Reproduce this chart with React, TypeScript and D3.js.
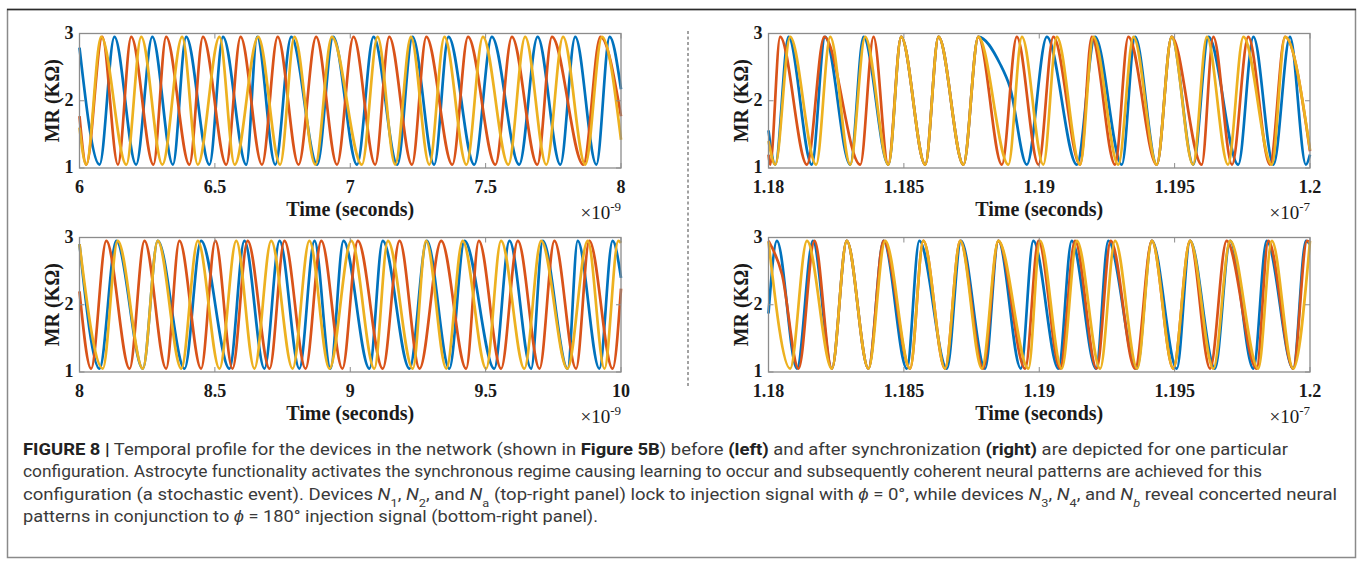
import React from "react";
import * as d3 from "d3";

type Pt = [number, number];

const PEAK = 2.95;
const TROUGH = 1.05;

const blue = "#0072BD";
const orange = "#D95319";
const yellow = "#EDB120";

// top-left panel: before synchronization, time in 1e-9 s
const tlTicks = [6, 6.5, 7, 7.5, 8];
const tlTickLabels = ["6", "6.5", "7", "7.5", "8"];
const tlBluePeaks = [6.129, 6.269, 6.394, 6.53, 6.656, 6.782, 6.937, 7.086, 7.23, 7.363, 7.523, 7.692, 7.831, 7.958];
const tlBlueTroughs = [6.074, 6.209, 6.345, 6.48, 6.616, 6.723, 6.878, 7.025, 7.174, 7.31, 7.458, 7.624, 7.776, 7.909];
const tlBlueEnds = [2.79, 2.17];
const tlOrangePeaks = [6.084, 6.191, 6.32, 6.456, 6.595, 6.732, 6.874, 7.012, 7.144, 7.281, 7.435, 7.597, 7.745, 7.924];
const tlOrangeTroughs = [6.025, 6.142, 6.273, 6.406, 6.542, 6.674, 6.809, 6.951, 7.092, 7.228, 7.377, 7.536, 7.691, 7.861];
const tlOrangeEnds = [1.77, 1.77];
const tlYellowPeaks = [6.08, 6.228, 6.379, 6.517, 6.66, 6.794, 6.932, 7.101, 7.224, 7.348, 7.49, 7.646, 7.786, 7.93];
const tlYellowTroughs = [6.025, 6.173, 6.306, 6.437, 6.573, 6.741, 6.871, 7.043, 7.166, 7.292, 7.429, 7.584, 7.724, 7.868];
const tlYellowEnds = [1.6, 1.42];

// bottom-left panel
const blTicks = [8, 8.5, 9, 9.5, 10];
const blTickLabels = ["8", "8.5", "9", "9.5", "10"];
const blBluePeaks = [8.136, 8.289, 8.449, 8.609, 8.739, 8.868, 8.975, 9.12, 9.283, 9.422, 9.588, 9.711, 9.84, 9.969];
const blBlueTroughs = [8.074, 8.234, 8.388, 8.554, 8.683, 8.812, 8.927, 9.071, 9.219, 9.366, 9.532, 9.668, 9.803, 9.92];
const blBlueEnds = [2.9, 2.4];
const blOrangePeaks = [8.099, 8.24, 8.369, 8.502, 8.621, 8.757, 8.893, 9.028, 9.182, 9.336, 9.475, 9.619, 9.754, 9.883];
const blOrangeTroughs = [8.043, 8.185, 8.32, 8.449, 8.565, 8.702, 8.835, 8.971, 9.12, 9.256, 9.428, 9.557, 9.699, 9.834, 9.969];
const blOrangeEnds = [2.2, 2.24];
const blYellowPeaks = [8.141, 8.289, 8.437, 8.579, 8.708, 8.849, 9.004, 9.139, 9.28, 9.415, 9.557, 9.705, 9.877, 9.99];
const blYellowTroughs = [8.086, 8.234, 8.376, 8.517, 8.646, 8.787, 8.923, 9.089, 9.231, 9.355, 9.502, 9.643, 9.802, 9.939];
const blYellowEnds = [2.9, 2.92];

// right panels: after synchronization, time in 1e-7 s
const rTicks = [1.18, 1.185, 1.19, 1.195, 1.2];
const rTickLabels = ["1.18", "1.185", "1.19", "1.195", "1.2"];

const trBluePeaks = [1.18074, 1.18209, 1.18351, 1.1849, 1.18628, 1.18775, 1.19028, 1.19206, 1.19354, 1.19489, 1.19625, 1.19791, 1.19926];
const trBlueTroughs = [1.18025, 1.1816, 1.18302, 1.18443, 1.18579, 1.1872, 1.18954, 1.19139, 1.19305, 1.19434, 1.19569, 1.19735, 1.19865, 1.19985];
const trBlueShoulder: Pt[] = [[1.18855, 2.55], [1.18892, 2.2]];
const trBlueEnds = [1.56, 1.2];
const trOrangePeaks = [1.18043, 1.18206, 1.18388, 1.1849, 1.18628, 1.18775, 1.18917, 1.19052, 1.19194, 1.19329, 1.19489, 1.19643, 1.19772, 1.19908];
const trOrangeTroughs = [1.18006, 1.18142, 1.18339, 1.18442, 1.18579, 1.1872, 1.18862, 1.18997, 1.19151, 1.1928, 1.19434, 1.196, 1.19712, 1.19852];
const trOrangeEnds = [1.2, 1.25];
const trYellowPeaks = [1.1808, 1.18228, 1.18357, 1.1849, 1.18628, 1.18775, 1.18936, 1.19065, 1.192, 1.19348, 1.19489, 1.19619, 1.19754, 1.19908];
const trYellowTroughs = [1.18025, 1.18176, 1.18302, 1.18443, 1.18579, 1.1872, 1.18886, 1.19015, 1.19151, 1.19292, 1.19434, 1.19568, 1.19697, 1.19859];
const trYellowEnds = [1.4, 1.27];

const brBluePeaks = [1.18031, 1.18164, 1.18289, 1.18425, 1.18557, 1.18711, 1.18849, 1.18978, 1.1912, 1.19255, 1.19416, 1.19557, 1.19705, 1.1984, 1.19985];
const brBlueTroughs = [1.18105, 1.18234, 1.18369, 1.18511, 1.18659, 1.188, 1.18932, 1.19071, 1.1921, 1.1936, 1.19508, 1.19649, 1.19791, 1.19938];
const brBlueEnds = [1.87, 2.9];
const brOrangePeaks = [1.1817, 1.18289, 1.18425, 1.18572, 1.18708, 1.18849, 1.18997, 1.19132, 1.19264, 1.19416, 1.19557, 1.19692, 1.19846, 1.19989];
const brOrangeTroughs = [1.18111, 1.18234, 1.18369, 1.18523, 1.18652, 1.18793, 1.18948, 1.19077, 1.19212, 1.19354, 1.19495, 1.19631, 1.19803, 1.19938];
const brOrangeShoulder: Pt[] = [[1.1805, 2.45]];
const brOrangeEnds = [2.95, 2.93];
const brYellowPeaks = [1.18142, 1.18289, 1.18431, 1.18572, 1.18708, 1.18849, 1.19003, 1.19139, 1.1928, 1.19416, 1.19557, 1.19705, 1.19859];
const brYellowTroughs = [1.1808, 1.18234, 1.18369, 1.18523, 1.18652, 1.18788, 1.1896, 1.19083, 1.19225, 1.19362, 1.19495, 1.19643, 1.19809, 1.19938];
const brYellowEnds = [2.94, 2.95];

const yTicks = [1, 2, 3];

function seriesPoints(domain: number[], ends: number[], peaks: number[], troughs: number[], extra: Pt[] = []): Pt[] {
  const pts: Pt[] = [
    [domain[0], ends[0]],
    ...peaks.map((t) => [t, PEAK] as Pt),
    ...troughs.map((t) => [t, TROUGH] as Pt),
    ...extra,
    [domain[1], ends[1]],
  ];
  return pts.sort((a, b) => a[0] - b[0]);
}

const serif = "'Liberation Serif', 'Times New Roman', serif";
const axisGray = "#8c8c8c";

function Panel({ left, top, width, height, domain, ticks, tickLabels, exponent, series }: any) {
  const x = d3.scaleLinear().domain(domain).range([left, left + width]);
  const y = d3.scaleLinear().domain([1, 3]).range([top + height, top]);
  const line = d3
    .line<Pt>()
    .x((d) => x(d[0]))
    .y((d) => y(d[1]))
    .curve(d3.curveMonotoneX);
  const bottom = top + height;
  return (
    <g>
      {series.map((s: any, i: number) => (
        <path key={i} d={line(s.points) || ""} fill="none" stroke={s.color} strokeWidth={2.7} strokeLinejoin="round" />
      ))}
      <rect x={left} y={top} width={width} height={height} fill="none" stroke={axisGray} strokeWidth={1.3} />
      {ticks.map((t: number, i: number) => (
        <g key={"x" + i}>
          <line x1={x(t)} x2={x(t)} y1={bottom} y2={bottom - 5} stroke={axisGray} />
          <line x1={x(t)} x2={x(t)} y1={top} y2={top + 5} stroke={axisGray} />
          <text x={x(t)} y={bottom + 25} textAnchor="middle" fontFamily={serif} fontWeight="bold" fontSize={18} fill="#1a1a1a">
            {tickLabels[i]}
          </text>
        </g>
      ))}
      {yTicks.map((v) => (
        <g key={"y" + v}>
          <line x1={left} x2={left + 5} y1={y(v)} y2={y(v)} stroke={axisGray} />
          <line x1={left + width} x2={left + width - 5} y1={y(v)} y2={y(v)} stroke={axisGray} />
          <text x={left - 6} y={y(v)} dy="0.28em" textAnchor="end" fontFamily={serif} fontWeight="bold" fontSize={18} fill="#1a1a1a">
            {v}
          </text>
        </g>
      ))}
      <text
        transform={`translate(${left - 28},${top + height / 2}) rotate(-90)`}
        dy="0.35em"
        textAnchor="middle"
        fontFamily={serif}
        fontWeight="bold"
        fontSize={20}
        fill="#1a1a1a"
      >
        MR (KΩ)
      </text>
      <text x={left + width / 2} y={bottom + 47.5} textAnchor="middle" fontFamily={serif} fontWeight="bold" fontSize={20} fill="#1a1a1a">
        Time (seconds)
      </text>
      <text x={left + width} y={bottom + 51} textAnchor="end" fontFamily={serif} fontSize={19} fill="#1a1a1a">
        ×10
        <tspan dy={-8} fontSize={13}>
          {exponent}
        </tspan>
      </text>
    </g>
  );
}

const capFont = "Roboto, 'Liberation Sans', Arial, sans-serif";

function Sub({ children, italic }: any) {
  return (
    <tspan baselineShift="sub" fontSize={11} fontStyle={italic ? "italic" : "normal"}>
      {children}
    </tspan>
  );
}

export default function App() {
  const leftX = 79.5;
  const rightX = 768.5;
  const w = 541.5;
  const topY = 33.5;
  const botY = 237.5;
  const h = 134.5;
  const lDom = [6, 8];
  const bDom = [8, 10];
  const rDom = [1.18, 1.2];

  const tlSeries = [
    { color: blue, points: seriesPoints(lDom, tlBlueEnds, tlBluePeaks, tlBlueTroughs) },
    { color: orange, points: seriesPoints(lDom, tlOrangeEnds, tlOrangePeaks, tlOrangeTroughs) },
    { color: yellow, points: seriesPoints(lDom, tlYellowEnds, tlYellowPeaks, tlYellowTroughs) },
  ];
  const blSeries = [
    { color: blue, points: seriesPoints(bDom, blBlueEnds, blBluePeaks, blBlueTroughs) },
    { color: orange, points: seriesPoints(bDom, blOrangeEnds, blOrangePeaks, blOrangeTroughs) },
    { color: yellow, points: seriesPoints(bDom, blYellowEnds, blYellowPeaks, blYellowTroughs) },
  ];
  const trSeries = [
    { color: blue, points: seriesPoints(rDom, trBlueEnds, trBluePeaks, trBlueTroughs, trBlueShoulder) },
    { color: orange, points: seriesPoints(rDom, trOrangeEnds, trOrangePeaks, trOrangeTroughs) },
    { color: yellow, points: seriesPoints(rDom, trYellowEnds, trYellowPeaks, trYellowTroughs) },
  ];
  const brSeries = [
    { color: blue, points: seriesPoints(rDom, brBlueEnds, brBluePeaks, brBlueTroughs) },
    { color: orange, points: seriesPoints(rDom, brOrangeEnds, brOrangePeaks, brOrangeTroughs, brOrangeShoulder) },
    { color: yellow, points: seriesPoints(rDom, brYellowEnds, brYellowPeaks, brYellowTroughs) },
  ];

  return (
    <svg width={1360} height={564} style={{ position: "absolute", left: 0, top: 0, background: "#fff" }}>
      <rect x={7.5} y={9.5} width={1348} height={548} fill="none" stroke="#8a8a8a" strokeWidth={1.5} />
      <line x1={7} x2={1356} y1={9.5} y2={9.5} stroke="#2b2b2b" strokeWidth={1.5} />

      <Panel left={leftX} top={topY} width={w} height={h} domain={lDom} ticks={tlTicks} tickLabels={tlTickLabels} exponent="-9" series={tlSeries} />
      <Panel left={leftX} top={botY} width={w} height={h} domain={bDom} ticks={blTicks} tickLabels={blTickLabels} exponent="-9" series={blSeries} />
      <Panel left={rightX} top={topY} width={w} height={h} domain={rDom} ticks={rTicks} tickLabels={rTickLabels} exponent="-7" series={trSeries} />
      <Panel left={rightX} top={botY} width={w} height={h} domain={rDom} ticks={rTicks} tickLabels={rTickLabels} exponent="-7" series={brSeries} />

      <line x1={688} x2={688} y1={31} y2={388} stroke="#444" strokeWidth={1} strokeDasharray="3 2.5" />

      <g fontFamily={capFont} fontSize={16} fill="#3a3a3a">
        <text x={23} y={455} textLength={1265} lengthAdjust="spacingAndGlyphs">
          <tspan fontWeight="bold" fill="#222">FIGURE 8 |</tspan> Temporal profile for the devices in the network (shown in{" "}
          <tspan fontWeight="bold" fill="#222">Figure 5B</tspan>) before <tspan fontWeight="bold" fill="#222">(left)</tspan> and after
          synchronization <tspan fontWeight="bold" fill="#222">(right)</tspan> are depicted for one particular
        </text>
        <text x={23} y={477} textLength={1239} lengthAdjust="spacingAndGlyphs">
          configuration. Astrocyte functionality activates the synchronous regime causing learning to occur and subsequently coherent neural
          patterns are achieved for this
        </text>
        <text x={23} y={499.5} textLength={1314} lengthAdjust="spacingAndGlyphs">
          configuration (a stochastic event). Devices <tspan fontStyle="italic">N</tspan>
          <Sub>1</Sub>, <tspan fontStyle="italic">N</tspan>
          <Sub>2</Sub>, and <tspan fontStyle="italic">N</tspan>
          <Sub>a</Sub> (top-right panel) lock to injection signal with <tspan fontStyle="italic">ϕ</tspan> = 0°, while devices{" "}
          <tspan fontStyle="italic">N</tspan>
          <Sub>3</Sub>, <tspan fontStyle="italic">N</tspan>
          <Sub>4</Sub>, and <tspan fontStyle="italic">N</tspan>
          <Sub italic>b</Sub> reveal concerted neural
        </text>
        <text x={23} y={522} textLength={575} lengthAdjust="spacingAndGlyphs">
          patterns in conjunction to <tspan fontStyle="italic">ϕ</tspan> = 180° injection signal (bottom-right panel).
        </text>
      </g>
    </svg>
  );
}
